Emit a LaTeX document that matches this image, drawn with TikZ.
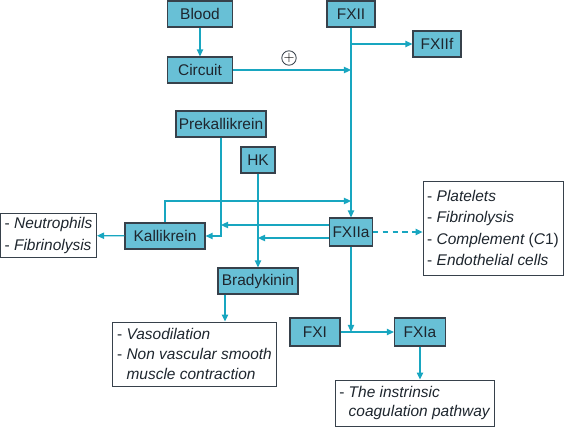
\documentclass[tikz,border=0pt]{standalone}
\usepackage{fontspec}
\setmainfont{Liberation Sans}
\usepackage{tikz}
\usetikzlibrary{
    arrows.meta,
    positioning,
    calc
}
\definecolor{boxFill}{RGB}{104,192,214}
\definecolor{boxEdge}{RGB}{55,65,75}
\definecolor{lineTeal}{RGB}{24,166,192}
\definecolor{inkDark}{RGB}{30,38,46}
\tikzset{
  block/.style   = {draw=boxEdge, fill=boxFill, line width=0.8pt, minimum height=0.65cm,
                    inner sep=2pt, align=center, text=inkDark, font=\fontsize{11}{13}\selectfont},
  notebox/.style = {draw=boxEdge, fill=white, line width=0.6pt, align=left, inner sep=3pt,
                    text=inkDark, font=\fontsize{11}{15}\selectfont\itshape},
  arr/.style     = {-{Triangle[length=5pt,width=4.5pt]}, lineTeal, line width=0.9pt},
  arrd/.style    = {arr, dashed, dash pattern=on 4pt off 3pt}
}

\begin{document}
\begin{tikzpicture}[x=0.025cm, y=-0.025cm]
        \useasboundingbox (0,0) rectangle (566,428);
        % factor boxes
        \node[block, minimum width=1.625cm] (blood)   at (200,14)  {Blood};
        \node[block, minimum width=1.2cm]   (fxii)    at (351,14)  {FXII};
        \node[block, minimum width=1.625cm] (circuit) at (200,70)  {Circuit};
        \node[block, minimum width=1.2cm]   (fxiif)   at (437,44)  {FXIIf};
        \node[block, minimum width=2.25cm]  (prek)    at (221,124) {Prekallikrein};
        \node[block, minimum width=0.85cm]  (hk)      at (258,160) {HK};
        \node[block, minimum width=2cm]     (kall)    at (165,236) {Kallikrein};
        \node[block, minimum width=0.95cm, minimum height=0.7cm] (fxiia) at (351,232) {FXIIa};
        \node[block, minimum width=2cm]     (brady)   at (258,281) {Bradykinin};
        \node[block, minimum width=1.25cm, minimum height=0.7cm] (fxi)  at (315,332) {FXI};
        \node[block, minimum width=1.275cm, minimum height=0.7cm] (fxia) at (420,332) {FXIa};
        % effect boxes
        \node[notebox, minimum width=2.375cm, minimum height=1.025cm] (neut) at (48.5,235.5)
            {\upshape-\ \itshape Neutrophils\\\upshape-\ \itshape Fibrinolysis};
        \node[notebox, minimum width=3.3cm, minimum height=2.35cm] (plat) at (493,228)
            {\upshape-\ \itshape Platelets\\\upshape-\ \itshape Fibrinolysis\\
             \upshape-\ \itshape Complement \upshape(\itshape C\upshape1)\\\upshape-\ \itshape Endothelial cells};
        \node[notebox, minimum width=4.075cm, minimum height=1.6cm, font=\fontsize{11}{14}\selectfont\itshape] (vaso) at (194.5,354)
            {\upshape-\ \itshape Vasodilation\\\upshape-\ \itshape Non vascular smooth\\\phantom{-\ }muscle contraction};
        \node[notebox, minimum width=3.525cm, minimum height=1.15cm, font=\fontsize{11}{14}\selectfont\itshape] (instr) at (414.5,403)
            {\upshape-\ \itshape The instrinsic\\\phantom{-\ }coagulation pathway};
        \node[draw=boxEdge, circle, inner sep=0pt, minimum size=0.36cm, line width=0.6pt,
              font=\fontsize{10}{10}\selectfont] (plus) at (289,58) {$+$};
        % connectors
        \draw[arr] (blood) -- (circuit);
        \draw[arr] (fxii) -- (fxiia);
        \draw[arr] (fxii.south |- fxiif.west) -- (fxiif);
        \draw[arr] (circuit) -- (fxii.south |- circuit);
        \coordinate (join) at (351,201);
        \draw[arr] (kall.north) |- (join);
        \draw[arr] (prek.south) |- (kall.east);
        \coordinate (upper) at ($(fxiia.west)+(0,-7)$);
        \coordinate (lower) at ($(fxiia.west)+(0,6)$);
        \draw[arr] (upper) -- (prek.south |- upper);
        \draw[arr] (lower) -- (hk.south |- lower);
        \draw[arr] (hk) -- (brady);
        \draw[arr] (kall) -- (neut);
        \draw[arrd] (fxiia.east) -- (fxiia.east -| plat.west);
        \draw[arr] (fxiia) -- (fxiia |- fxi);
        \draw[arr] (fxi) -- (fxia);
        \draw[arr] ([xshift=-0.825cm]brady.south) -- ([xshift=-0.825cm]brady.south |- vaso.north);
        \draw[arr] (fxia) -- (fxia |- instr.north);
      \end{tikzpicture}
\end{document}
